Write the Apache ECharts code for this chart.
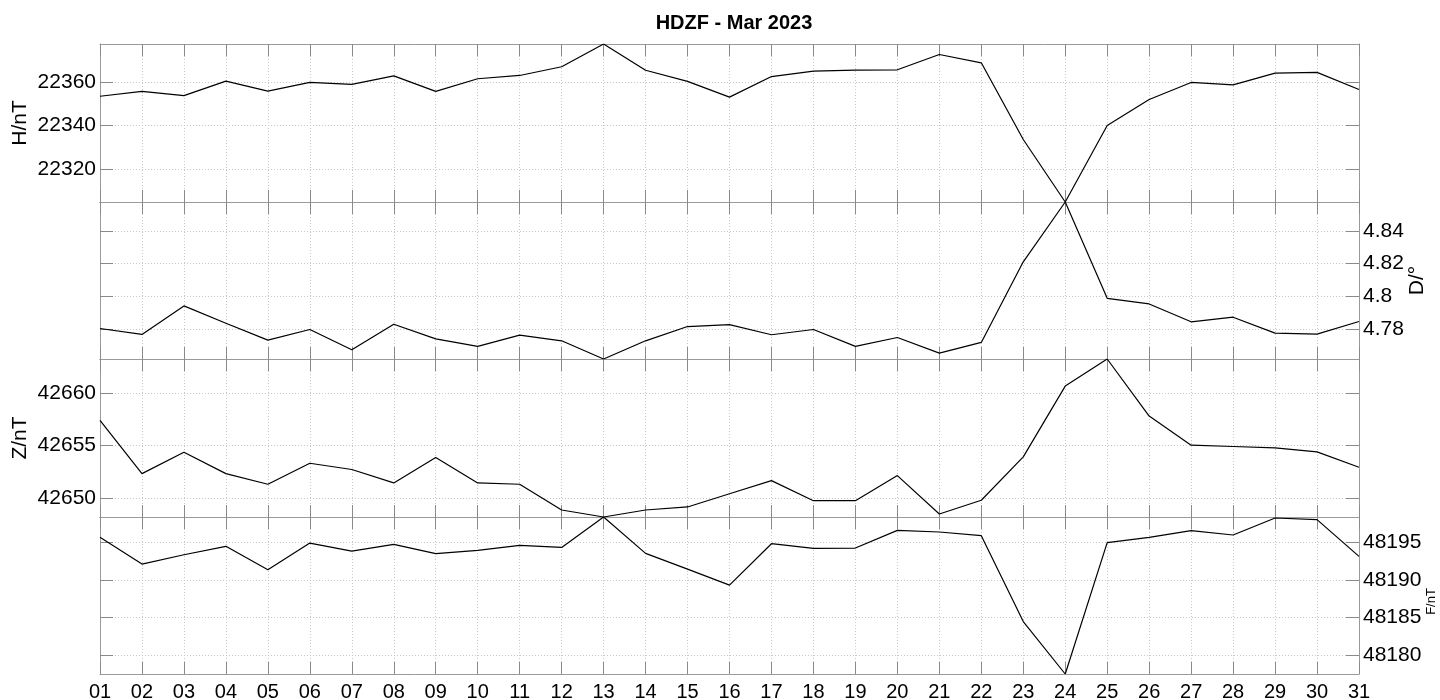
<!DOCTYPE html>
<html>
<head>
<meta charset="utf-8">
<script src="https://cdn.jsdelivr.net/npm/echarts@6/dist/echarts.min.js"></script>
<style>
html, body { margin: 0; padding: 0; background: #fff; }
#chart { width: 1440px; height: 700px; }
</style>
</head>
<body>
<div id="chart"></div>
<script>
// daily means, HDZF March 2023
var days = [1, 2, 3, 4, 5, 6, 7, 8, 9, 10, 11, 12, 13, 14, 15, 16, 17, 18, 19, 20, 21, 22, 23, 24, 25, 26, 27, 28, 29, 30, 31];
var hValues = [22353.4, 22355.6, 22353.7, 22360.3, 22355.7, 22359.7, 22358.8, 22362.7, 22355.6, 22361.4, 22362.9, 22366.9, 22377.3, 22365.3, 22360.2, 22353.0,
  22362.4, 22364.9, 22365.3, 22365.5, 22372.5, 22368.7, 22333.6, 22305.0, 22340.0, 22351.9, 22359.7, 22358.6, 22364.0, 22364.3, 22356.5];
var dValues = [4.7804, 4.7768, 4.7942, 4.7836, 4.7733, 4.7798, 4.7674, 4.7830, 4.7741, 4.7695, 4.7764, 4.7729, 4.7618, 4.7729, 4.7816, 4.7828,
  4.7766, 4.7798, 4.7695, 4.7749, 4.7654, 4.7719, 4.8211, 4.8576, 4.7988, 4.7954, 4.7845, 4.7873, 4.7776, 4.7770, 4.7847];
var zValues = [42657.41, 42652.33, 42654.38, 42652.33, 42651.31, 42653.32, 42652.72, 42651.44, 42653.87, 42651.44, 42651.31, 42648.85, 42648.18, 42648.85, 42649.14, 42650.4,
  42651.66, 42649.74, 42649.74, 42652.14, 42648.47, 42649.78, 42653.93, 42660.70, 42663.29, 42657.83, 42655.05, 42654.92, 42654.79, 42654.41, 42652.94];
var fValues = [48195.67, 48192.11, 48193.35, 48194.47, 48191.35, 48194.91, 48193.84, 48194.73, 48193.49, 48193.93, 48194.60, 48194.33, 48198.38, 48193.53, 48191.44, 48189.3,
  48194.82, 48194.20, 48194.24, 48196.60, 48196.38, 48195.89, 48184.45, 48177.46, 48194.96, 48195.67, 48196.56, 48195.98, 48198.25, 48198.03, 48193.13];

var hTicks = [22320, 22340, 22360];
var dTicks = [4.78, 4.8, 4.82, 4.84];
var zTicks = [42650, 42655, 42660];
var fTicks = [48180, 48185, 48190, 48195];

var titleText = 'HDZF - Mar 2023';

var panels = [
  { name: 'H/nT', values: hValues, ticks: hTicks, side: 'left', top: 44, height: 158, gap: 69, nameSize: 21, namePad: 0 },
  { name: 'D/°', values: dValues, ticks: dTicks, side: 'right', top: 202, height: 157, gap: 48, nameSize: 21, namePad: 0 },
  { name: 'Z/nT', values: zValues, ticks: zTicks, side: 'left', top: 359, height: 158, gap: 69, nameSize: 21, namePad: 0 },
  { name: 'F/nT', values: fValues, ticks: fTicks, side: 'right', top: 517, height: 157, gap: 66, nameSize: 13, namePad: 12 }
];

var font = 'Liberation Sans, Arial, sans-serif';
var gridColor = '#c8c8c8';
var tickColor = '#8a8a8a';
var boxColor = '#9a9a9a';

function pad(v) {
  return v < 10 ? '0' + v : '' + v;
}

var grids = [], xAxes = [], yAxes = [], series = [];

panels.forEach(function (p, i) {
  grids.push({ left: 100, width: 1259, top: p.top, height: p.height, containLabel: false, outerBoundsMode: 'none' });

  // tight limits like MATLAB "axis tight"
  var lo = Math.min.apply(null, p.values);
  var hi = Math.max.apply(null, p.values);

  ['bottom', 'top'].forEach(function (pos) {
    var isLabelled = (i === panels.length - 1 && pos === 'bottom');
    xAxes.push({
      type: 'value',
      gridIndex: i,
      position: pos,
      min: 1,
      max: 31,
      interval: 1,
      axisLine: { show: true, lineStyle: { color: boxColor, width: 1 } },
      axisTick: { show: true, inside: true, length: 12, lineStyle: { color: tickColor } },
      axisLabel: {
        show: isLabelled,
        margin: 8,
        color: '#000',
        fontFamily: font,
        fontSize: 20,
        formatter: function (v) { return pad(v); }
      },
      splitLine: { show: pos === 'bottom', lineStyle: { color: gridColor, type: [1, 2], width: 1 } }
    });
  });

  ['left', 'right'].forEach(function (pos) {
    var isLabelled = pos === p.side;
    yAxes.push({
      type: 'value',
      gridIndex: i,
      position: pos,
      min: lo,
      max: hi,
      name: isLabelled ? p.name : '',
      nameLocation: 'middle',
      nameGap: p.gap,
      nameMoveOverlap: false,
      nameTextStyle: { color: '#000', fontFamily: font, fontSize: p.nameSize, padding: [0, p.namePad, 0, 0] },
      axisLine: { show: true, lineStyle: { color: boxColor, width: 1 } },
      axisTick: { show: true, inside: true, length: 13, customValues: p.ticks, lineStyle: { color: tickColor } },
      axisLabel: {
        show: isLabelled,
        customValues: p.ticks,
        margin: 4,
        color: '#000',
        fontFamily: font,
        fontSize: 21,
        formatter: function (v) { return String(+v.toFixed(4)); }
      },
      splitLine: { show: pos === 'left', lineStyle: { color: gridColor, type: [1, 2], width: 1 } }
    });
  });

  series.push({
    type: 'line',
    xAxisIndex: i * 2,
    yAxisIndex: i * 2,
    data: days.map(function (d, k) { return [d, p.values[k]]; }),
    showSymbol: false,
    silent: true,
    animation: false,
    lineStyle: { color: '#000', width: 1.2 }
  });
});

var chart = echarts.init(document.getElementById('chart'));
chart.setOption({
  backgroundColor: '#fff',
  animation: false,
  title: {
    text: titleText,
    left: 729,
    textAlign: 'center',
    top: 8,
    textStyle: { fontFamily: font, fontSize: 20, fontWeight: 'bold', color: '#000' }
  },
  grid: grids,
  xAxis: xAxes,
  yAxis: yAxes,
  series: series
});
</script>
</body>
</html>
